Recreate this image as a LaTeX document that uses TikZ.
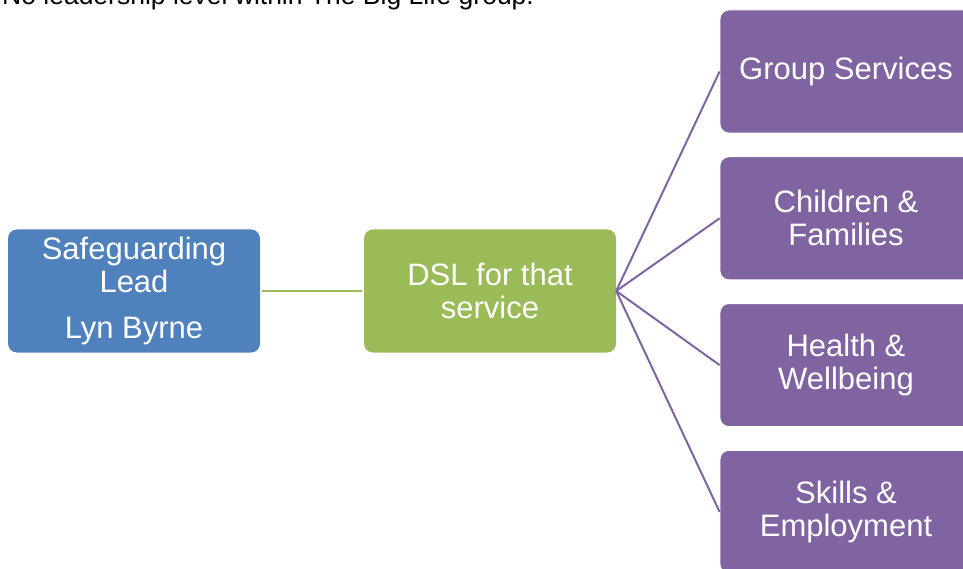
\documentclass[tikz,border=0pt]{standalone}
\usepackage{fontspec}
\setmainfont{Liberation Sans}
\usetikzlibrary{positioning}
\definecolor{leadblue}{HTML}{4F81BD}
\definecolor{dslgreen}{HTML}{9BBB59}
\definecolor{servpurple}{HTML}{8064A2}

\begin{document}
\begin{tikzpicture}[
    x=1pt, y=-1pt,
    node distance=23pt,
    box/.style={rectangle, rounded corners=9pt, minimum width=252pt,
                minimum height=123pt, inner sep=0pt, align=center,
                text=white, font=\fontsize{31}{33}\selectfont},
    leadbox/.style={box, fill=leadblue},
    dslbox/.style={box, fill=dslgreen},
    servbox/.style={box, fill=servpurple, draw=white, line width=0.8pt},
    link/.style={line width=2pt}
]
\useasboundingbox (0,0) rectangle (963,569);
\clip (0,0) rectangle (963,569);

% === HEADING (cut by the top edge) ===
\node[anchor=base west, inner sep=0pt, font=\fontsize{26.5}{30}\selectfont] (head) at (2,5)
    {No leadership level within The Big Life group.};

% === LEAD AND DSL ===
\node[leadbox] (lead) at (134,291) {Safeguarding\\Lead\\[13pt]Lyn Byrne};
\node[dslbox] (dsl) at (490,291) {DSL for that\\service};

% === SERVICES ===
\node[servbox] (grp) at (846,71.5) {Group Services};
\node[servbox, below=of grp] (chf) {Children \&\\Families};
\node[servbox, below=of chf] (hwb) {Health \&\\Wellbeing};
\node[servbox, below=of hwb] (ske) {Skills \&\\Employment};

% === LINKS ===
\draw[link, dslgreen, shorten <=2pt, shorten >=2pt] (lead) -- (dsl);
\draw[link, servpurple] (dsl.east) -- (grp.west);
\draw[link, servpurple] (dsl.east) -- (chf.west);
\draw[link, servpurple] (dsl.east) -- (hwb.west);
\draw[link, servpurple] (dsl.east) -- (ske.west);

\end{tikzpicture}
\end{document}
